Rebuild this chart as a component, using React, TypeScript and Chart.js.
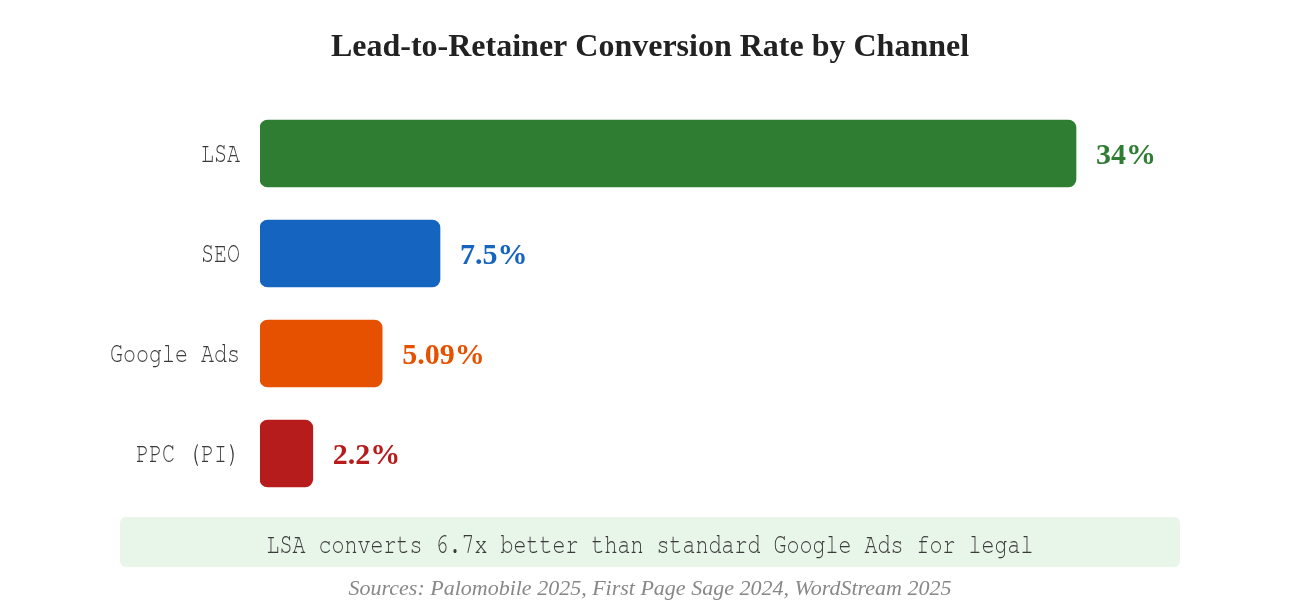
import React, { useEffect, useRef } from "react";
import { Chart, registerables } from "chart.js";

Chart.register(...registerables);

const categories = ["LSA", "SEO", "Google Ads", "PPC (PI)"];
const values = [34, 7.5, 5.09, 2.2];
const valueLabels = ["34%", "7.5%", "5.09%", "2.2%"];
const barColors = ["#2E7D32", "#1565C0", "#E65100", "#B71C1C"];
const titleText = "Lead-to-Retainer Conversion Rate by Channel";
const calloutText = "LSA converts 6.7x better than standard Google Ads for legal";
const sourcesText = "Sources: Palomobile 2025, First Page Sage 2024, WordStream 2025";

const MONO = '"FreeMono", "Liberation Mono", monospace';
const SERIF = '"Liberation Serif", "Times New Roman", serif';
const MONO_SIZE = 29;
const MONO_PITCH = 13; // px per character in the reference

function drawCondensed(ctx: CanvasRenderingContext2D, text: string, x: number, y: number, align: CanvasTextAlign) {
  ctx.save();
  ctx.font = `${MONO_SIZE}px ${MONO}`;
  const natural = ctx.measureText("M").width;
  const sx = MONO_PITCH / natural;
  ctx.translate(x, y);
  ctx.scale(sx, 1);
  ctx.textAlign = align;
  ctx.textBaseline = "alphabetic";
  ctx.fillText(text, 0, 0);
  ctx.restore();
}

const overlayPlugin = {
  id: "overlay",
  afterDatasetsDraw(chart: any) {
    const ctx = chart.ctx;
    const meta = chart.getDatasetMeta(0);
    const yScale = chart.scales.y;
    ctx.save();
    ctx.font = `bold 30px ${SERIF}`;
    ctx.textAlign = "left";
    ctx.textBaseline = "alphabetic";
    meta.data.forEach((bar: any, i: number) => {
      ctx.fillStyle = barColors[i];
      ctx.fillText(valueLabels[i], bar.x + 20, bar.y + 10);
    });
    ctx.fillStyle = "#3a3a3a";
    categories.forEach((c, i) => {
      drawCondensed(ctx, c, yScale.right - 20, yScale.getPixelForValue(i) + 8, "right");
    });
    ctx.restore();
  },
  afterDraw(chart: any) {
    const ctx = chart.ctx;
    const w = chart.width;
    ctx.save();
    ctx.fillStyle = "#222222";
    ctx.font = `bold 32px ${SERIF}`;
    ctx.textAlign = "center";
    ctx.textBaseline = "alphabetic";
    ctx.fillText(titleText, w / 2, 56);
    ctx.fillStyle = "#E8F5E9";
    ctx.beginPath();
    (ctx as any).roundRect(120, 517, 1060, 50, 6);
    ctx.fill();
    ctx.fillStyle = "#3a3a3a";
    drawCondensed(ctx, calloutText, w / 2, 553, "center");
    ctx.fillStyle = "#888888";
    ctx.font = `italic 22px ${SERIF}`;
    ctx.textAlign = "center";
    ctx.fillText(sourcesText, w / 2, 595);
    ctx.restore();
  },
};

export default function App() {
  const ref = useRef<HTMLCanvasElement>(null);
  useEffect(() => {
    const chart = new Chart(ref.current!, {
      type: "bar",
      data: {
        labels: categories,
        datasets: [
          {
            data: values,
            backgroundColor: barColors,
            borderRadius: 8,
            borderSkipped: false,
            barThickness: 67,
          },
        ],
      },
      options: {
        indexAxis: "y",
        animation: false,
        responsive: false,
        maintainAspectRatio: false,
        layout: { padding: { top: 103.5, bottom: 96.5, left: 0, right: 80 } },
        plugins: {
          legend: { display: false },
          title: { display: false },
          tooltip: { enabled: false },
        },
        scales: {
          x: { display: false, min: 0, max: 40 },
          y: {
            grid: { display: false, drawTicks: false },
            border: { display: false },
            ticks: { display: false },
            afterFit(scale: any) {
              scale.width = 260;
            },
          },
        },
      },
      plugins: [overlayPlugin],
    });
    return () => chart.destroy();
  }, []);
  return (
    <div style={{ position: "fixed", left: 0, top: 0, width: 1300, height: 600, background: "#fff" }}>
      <canvas ref={ref} width={1300} height={600} style={{ width: 1300, height: 600 }} />
    </div>
  );
}
